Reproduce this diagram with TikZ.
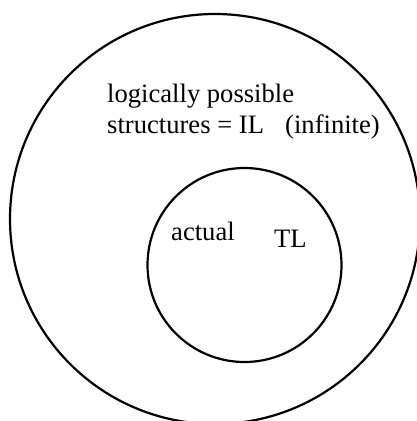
\documentclass[tikz,border=0pt]{standalone}
\usepackage{fontspec}
\setmainfont{Liberation Serif}
\begin{document}
\begin{tikzpicture}[x=1pt,y=-1pt,
  ring/.style={circle,draw=black,line width=2.2pt,inner sep=0pt},
  lbl/.style={anchor=base west,inner sep=0pt,font=\fontsize{26.6}{31}\selectfont}]
\useasboundingbox (0,0) rectangle (417,421);
\node[ring,minimum size=410pt] (outer) at (215,219) {};
\node[ring,minimum size=194pt] (inner) at (244.5,265) {};
\node[lbl] (l1) at (107,102) {logically possible};
\node[lbl] (l2) at (107,133) {structures = IL};
\node[lbl] (l3) at (285,133) {(infinite)};
\node[lbl] (act) at (171,240) {actual};
\node[lbl] (tl) at (274,247) {TL};
\end{tikzpicture}
\end{document}
